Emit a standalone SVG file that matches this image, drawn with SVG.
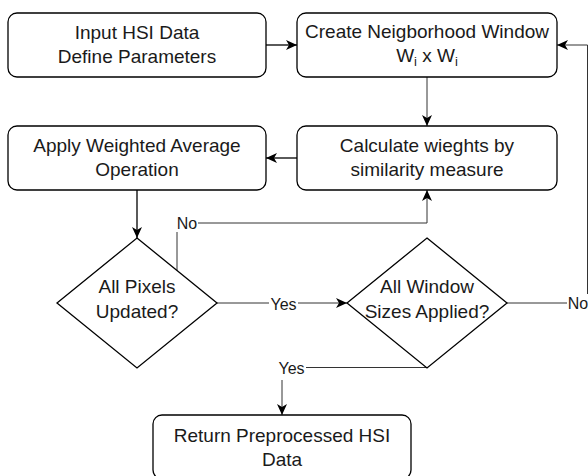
<svg xmlns="http://www.w3.org/2000/svg" width="588" height="476" viewBox="0 0 588 476">
<defs>
<marker id="arr" markerWidth="12" markerHeight="10" refX="11" refY="5" orient="auto" markerUnits="userSpaceOnUse">
<path d="M0,0 L11,5 L0,10 L3,5 Z" fill="#000"/>
</marker>
<style>
.box{fill:#fff;stroke:#000;stroke-width:1.3}
.t{font-family:"Liberation Sans",Arial,sans-serif;font-size:19px;fill:#1a1a1a;text-anchor:middle}
.lbl{font-family:"Liberation Sans",Arial,sans-serif;font-size:16px;fill:#1a1a1a;text-anchor:middle}
.e{fill:none;stroke:#000;stroke-width:1.3}
.e2{fill:none;stroke:#333;stroke-width:1}
.bg{fill:#fff}
</style>
</defs>
<rect width="588" height="476" fill="#fff"/>
<g id="connectors">
<path class="e" d="M266,45 H297" marker-end="url(#arr)"/>
<path class="e2" d="M427,77 V126" marker-end="url(#arr)"/>
<path class="e" d="M297,158 H266" marker-end="url(#arr)"/>
<path class="e" d="M137,190 V238" marker-end="url(#arr)"/>
<path class="e2" d="M177,270.5 V223 H427 V190" marker-end="url(#arr)"/>
<path class="e2" d="M217,303 H347" marker-end="url(#arr)"/>
<path class="e2" d="M507,303 H587.5 V45 H557" marker-end="url(#arr)"/>
<path class="e2" d="M427,367.5 H282 V415" marker-end="url(#arr)"/>
<rect class="bg" x="176" y="213" width="22" height="19"/>
<text class="lbl" x="187" y="229">No</text>
<rect class="bg" x="269" y="295" width="29" height="18"/>
<text class="lbl" x="283.5" y="310">Yes</text>
<rect class="bg" x="567" y="294" width="30" height="19"/>
<text class="lbl" x="578" y="309">No</text>
<rect class="bg" x="277" y="358" width="29" height="22"/>
<text class="lbl" x="291.5" y="374">Yes</text>
</g>
<g id="input">
<rect class="box" x="8" y="13" width="258" height="64" rx="9"/>
<text class="t" x="137" y="39">Input HSI Data</text>
<text class="t" x="137" y="63">Define Parameters</text>
</g>
<g id="window">
<rect class="box" x="297" y="13" width="260" height="64" rx="9"/>
<text class="t" x="427" y="38">Create Neigborhood Window</text>
<text class="t" x="427" y="62">W<tspan font-size="13" dy="4">i</tspan><tspan dy="-4"> x W</tspan><tspan font-size="13" dy="4">i</tspan></text>
</g>
<g id="weights">
<rect class="box" x="297" y="126" width="260" height="64" rx="9"/>
<text class="t" x="427" y="152">Calculate wieghts by</text>
<text class="t" x="427" y="176">similarity measure</text>
</g>
<g id="apply">
<rect class="box" x="8" y="126" width="258" height="64" rx="9"/>
<text class="t" x="137" y="152">Apply Weighted Average</text>
<text class="t" x="137" y="176">Operation</text>
</g>
<g id="pixels">
<path class="box" d="M137,238 L217,303 L137,368 L57,303 Z"/>
<text class="t" x="137" y="293">All Pixels</text>
<text class="t" x="137" y="318">Updated?</text>
</g>
<g id="sizes">
<path class="box" d="M427,238 L507,303 L427,368 L347,303 Z"/>
<text class="t" x="427" y="293">All Window</text>
<text class="t" x="427" y="318">Sizes Applied?</text>
</g>
<g id="return">
<rect class="box" x="153" y="415" width="258" height="64" rx="9"/>
<text class="t" x="282" y="442">Return Preprocessed HSI</text>
<text class="t" x="282" y="466">Data</text>
</g>
</svg>
